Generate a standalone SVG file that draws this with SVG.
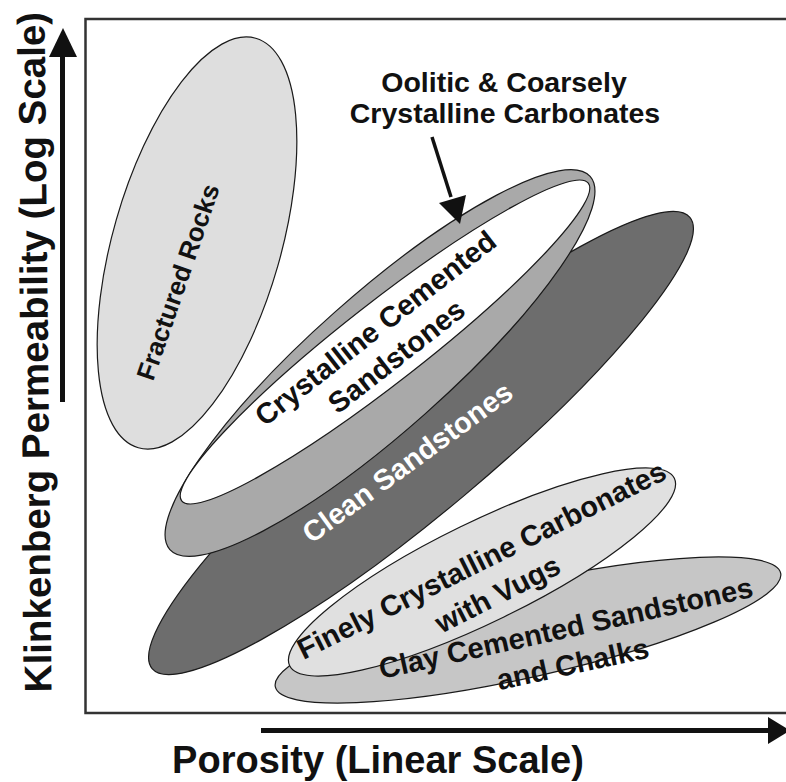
<svg xmlns="http://www.w3.org/2000/svg" width="786" height="782" viewBox="0 0 786 782">
<style>
text { font-family: "Liberation Sans", Arial, sans-serif; font-weight: bold; text-anchor: middle; fill: #111; }
.lbl { font-size: 29px; }
.ax { font-size: 38px; }
.reg { stroke: #1a1a1a; stroke-width: 1.2; }
</style>
<rect width="786" height="782" fill="#fff"/>
<g id="frame"><path d="M796 19 H85.5 V713 H796" fill="none" stroke="#333" stroke-width="2.5"/></g>

<g id="clean-sandstones">
<ellipse class="reg" cx="421" cy="443" rx="351" ry="68" transform="rotate(-40 421 443)" fill="#6d6d6d"/>
</g>
<g id="crystalline-cemented-sandstones">
<ellipse class="reg" cx="380" cy="363" rx="281" ry="68" transform="rotate(-41.6 380 363)" fill="#a9a9a9"/>
<ellipse class="reg" cx="385" cy="342" rx="258" ry="40" transform="rotate(-38 385 342)" fill="#ffffff"/>
<text class="lbl" transform="translate(376,329) rotate(-38)" y="9">Crystalline Cemented</text>
<text class="lbl" transform="translate(397,357) rotate(-38)" y="9">Sandstones</text>
</g>
<g id="clean-sandstones-label">
<text class="lbl" transform="translate(408,463) rotate(-36)" y="9" style="fill:#fff">Clean Sandstones</text>
</g>
<g id="clay-cemented-sandstones">
<ellipse class="reg" cx="528" cy="630" rx="259" ry="47" transform="rotate(-12.7 528 630)" fill="#c6c6c6"/>
</g>
<g id="finely-crystalline-carbonates">
<ellipse class="reg" cx="482" cy="572" rx="214" ry="50" transform="rotate(-26 482 572)" fill="#e0e0e0"/>
<text class="lbl" transform="translate(482,561) rotate(-26.5)" y="9">Finely Crystalline Carbonates</text>
<text class="lbl" transform="translate(498,595) rotate(-27)" y="9">with Vugs</text>
</g>
<g id="clay-cemented-label">
<text class="lbl" transform="translate(566,629) rotate(-12.5)" y="9">Clay Cemented Sandstones</text>
<text class="lbl" transform="translate(573,665) rotate(-12.3)" y="9">and Chalks</text>
</g>
<g id="fractured-rocks">
<ellipse class="reg" cx="197" cy="243" rx="84" ry="213" transform="rotate(16 197 243)" fill="#dedede"/>
<text transform="translate(178,282) rotate(-71)" y="9" style="font-size:26px">Fractured Rocks</text>
</g>
<g id="oolitic-label">
<text style="font-size:28.5px" x="504" y="92">Oolitic &amp; Coarsely</text>
<text style="font-size:28.5px" x="505" y="123">Crystalline Carbonates</text>
</g>

<g id="connectors">
<line x1="432" y1="137" x2="451" y2="197" stroke="#111" stroke-width="3.5"/>
<polygon points="439,203 466,195 460,224" fill="#111"/>
<line x1="62.5" y1="402" x2="62.5" y2="52" stroke="#111" stroke-width="5"/>
<polygon points="49,57 77,57 63,28" fill="#111"/>
<line x1="261" y1="730.5" x2="772" y2="730.5" stroke="#111" stroke-width="5"/>
<polygon points="768,717 768,744 790,730.5" fill="#111"/>
</g>

<g id="axis-labels">
<text class="ax" transform="translate(48,352) rotate(-90.6)" style="font-size:38.5px">Klinkenberg Permeability (Log Scale)</text>
<text class="ax" x="378" y="773">Porosity (Linear Scale)</text>
</g>
</svg>
